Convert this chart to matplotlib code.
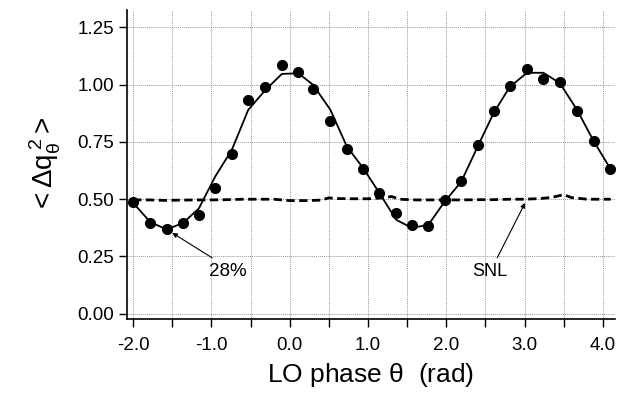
"""
Quadrature variance vs LO phase, with shot-noise level (SNL) reference.
"""

import matplotlib
matplotlib.use("Agg")
import matplotlib.pyplot as plt
from matplotlib.ticker import MultipleLocator, FormatStrFormatter

_STYLE = {
    "font.family":       ["Liberation Sans", "DejaVu Sans"],
    "mathtext.fontset":  "custom",
    "mathtext.rm":       "Liberation Sans",
    "mathtext.it":       "Liberation Sans",
    "axes.spines.top":   False,
    "axes.spines.right": False,
}

# measured points
phase = [-2.00, -1.78, -1.57, -1.36, -1.16, -0.95, -0.74, -0.53, -0.31, -0.10,
         0.11, 0.30, 0.52, 0.73, 0.94, 1.14, 1.36, 1.56, 1.77, 1.98,
         2.19, 2.41, 2.61, 2.81, 3.03, 3.24, 3.45, 3.67, 3.88, 4.09]
variance = [0.490, 0.397, 0.371, 0.397, 0.432, 0.550, 0.698, 0.933, 0.990, 1.086,
            1.055, 0.980, 0.842, 0.720, 0.632, 0.528, 0.440, 0.388, 0.384, 0.497,
            0.580, 0.737, 0.885, 0.995, 1.067, 1.025, 1.010, 0.885, 0.755, 0.632]

# fitted curve, read at the same phases
fit = [0.484, 0.400, 0.368, 0.397, 0.460, 0.600, 0.715, 0.890, 0.977, 1.047,
       1.050, 0.999, 0.890, 0.730, 0.635, 0.530, 0.410, 0.375, 0.388, 0.490,
       0.576, 0.737, 0.880, 0.990, 1.052, 1.052, 1.007, 0.890, 0.755, 0.636]

# shot-noise level trace
snl_phase = [-2.0, -1.8, -1.6, -1.4, -1.2, -1.0, -0.8, -0.6, -0.4, -0.2,
             0.0, 0.2, 0.4, 0.5, 0.6, 0.8, 1.0, 1.2, 1.3, 1.4,
             1.6, 1.8, 2.0, 2.2, 2.4, 2.6, 2.8, 3.0, 3.2, 3.35,
             3.5, 3.6, 3.8, 4.0, 4.1]
snl = [0.497, 0.497, 0.495, 0.496, 0.497, 0.497, 0.498, 0.500, 0.500, 0.500,
       0.494, 0.494, 0.496, 0.506, 0.503, 0.502, 0.502, 0.506, 0.512, 0.500,
       0.497, 0.497, 0.497, 0.497, 0.498, 0.498, 0.500, 0.500, 0.503, 0.508,
       0.520, 0.507, 0.500, 0.500, 0.500]

with plt.style.context(_STYLE):
    fig = plt.figure(figsize=(6.2, 4.01), dpi=100)
    ax = fig.add_axes([0.205, 0.205, 0.787, 0.77])

    ax.plot(snl_phase, snl, color="black", lw=2.0, ls=(0, (3, 1.6)))
    ax.plot(phase, fit, color="black", lw=1.3)
    ax.plot(phase, variance, "o", color="black", ms=7)

    ax.set_xlim(-2.077, 4.155)
    ax.set_ylim(-0.022, 1.326)
    ax.xaxis.set_major_locator(MultipleLocator(1.0))
    ax.xaxis.set_minor_locator(MultipleLocator(0.5))
    ax.yaxis.set_major_locator(MultipleLocator(0.25))
    ax.xaxis.set_major_formatter(FormatStrFormatter("%.1f"))
    ax.yaxis.set_major_formatter(FormatStrFormatter("%.2f"))
    ax.tick_params(which="both", direction="out", length=6, width=1.0,
                   labelsize=13.5, color="black")
    ax.tick_params(axis="x", pad=7)
    for sp in ("left", "bottom"):
        ax.spines[sp].set_linewidth(1.2)

    ax.grid(True, which="both", color="#999999", ls=(0, (1, 1)), lw=0.7)
    ax.set_axisbelow(True)

    ax.set_xlabel(r"LO phase $\theta$  (rad)", fontsize=19, labelpad=5)
    ax.set_ylabel(r"$<\Delta q_{\theta}^{\,2}>$", fontsize=20, labelpad=10)

    arrow = dict(arrowstyle="-|>", color="black", lw=0.8,
                 mutation_scale=7, shrinkA=0, shrinkB=0)
    ax.annotate("", xy=(-1.50, 0.353), xytext=(-0.99, 0.244),
                arrowprops=arrow)
    ax.text(-0.79, 0.183, "28%", fontsize=13.5, ha="center", va="center")
    ax.annotate("", xy=(3.006, 0.484), xytext=(2.65, 0.244),
                arrowprops=arrow)
    ax.text(2.56, 0.183, "SNL", fontsize=13, ha="center", va="center")

    fig.savefig("out.png", dpi=100)
